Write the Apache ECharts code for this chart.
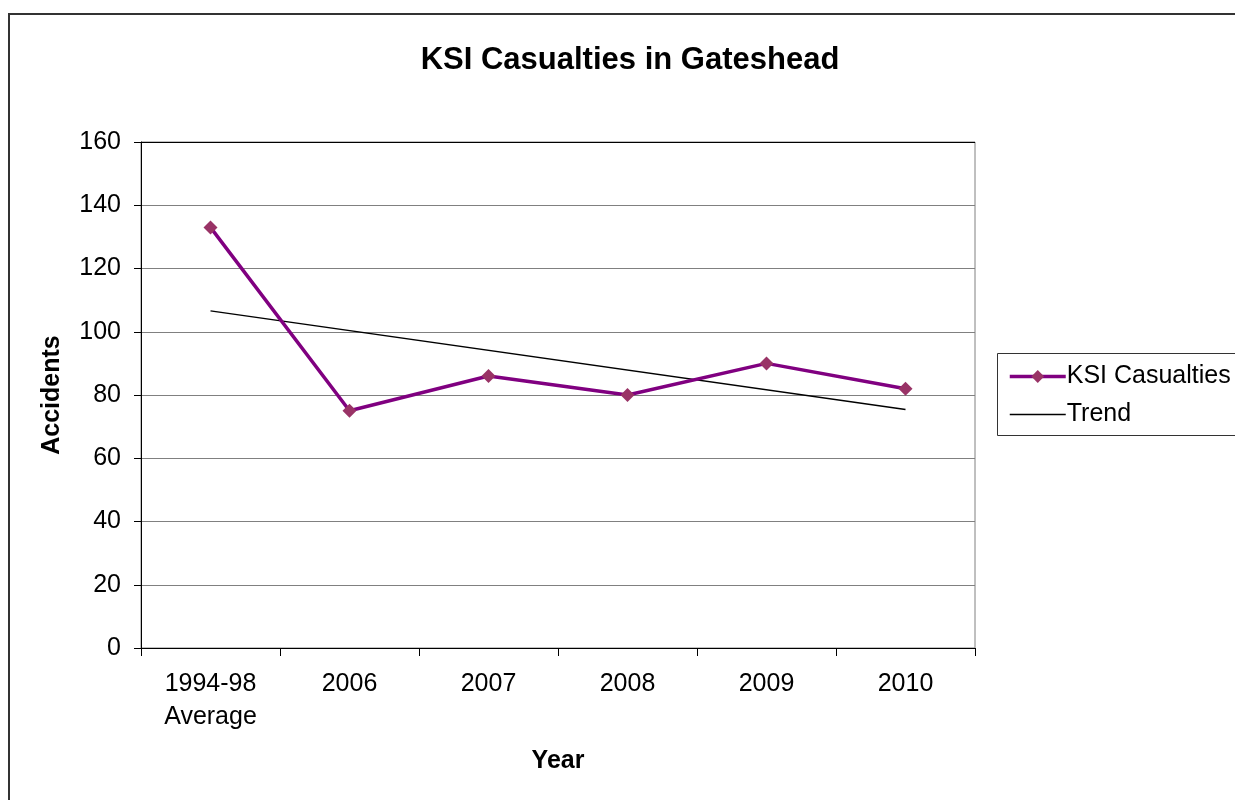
<!DOCTYPE html>
<html>
<head>
<meta charset="utf-8">
<title>KSI Casualties in Gateshead</title>
<script src="https://cdn.jsdelivr.net/npm/echarts@6/dist/echarts.min.js"></script>
<style>
  html, body { margin: 0; padding: 0; background: #fff; }
  #chart { width: 1235px; height: 800px; }
</style>
</head>
<body>
<div id="chart"></div>
<script>
// categories and values
const years = ['1994-98\nAverage', '2006', '2007', '2008', '2009', '2010']
const casualties = [133, 75, 86, 80, 90, 82]
// trend line: only the two end points, joined straight
const trend = [106.6, null, null, null, null, 75.4]
const yTicks = [0, 20, 40, 60, 80, 100, 120, 140, 160]

const font = 'Liberation Sans, Arial, sans-serif'

const chart = echarts.init(document.getElementById('chart'))
chart.setOption({
  animation: false,
  backgroundColor: '#fff',
  textStyle: { fontFamily: font, color: '#000' },
  title: {
    text: 'KSI Casualties in Gateshead',
    left: 625,
    textAlign: 'center',
    top: 40,
    textStyle: { fontFamily: font, fontSize: 31, fontWeight: 'bold', color: '#000' }
  },
  grid: {
    left: 141,
    top: 142,
    right: 260,
    bottom: 152,
    show: true,
    borderColor: '#808080',
    borderWidth: 1
  },
  legend: {
    orient: 'vertical',
    left: 1003,
    top: 359,
    itemWidth: 56,
    itemHeight: 16,
    itemGap: 13,
    data: [
      { name: 'KSI Casualties', lineStyle: { width: 3.5 } },
      { name: 'Trend', itemStyle: { opacity: 0 }, lineStyle: { width: 1.5 } }
    ],
    textStyle: { fontFamily: font, fontSize: 25, color: '#000', padding: [0, 0, 0, -4] }
  },
  graphic: [
    {
      type: 'rect',
      shape: { x: 9, y: 14, width: 1240, height: 800 },
      style: { fill: 'none', stroke: '#333', lineWidth: 2 },
      z: -1
    },
    {
      type: 'rect',
      shape: { x: 997.5, y: 353.5, width: 260, height: 82 },
      style: { fill: 'none', stroke: '#333', lineWidth: 1 }
    }
  ],
  xAxis: {
    type: 'category',
    data: years,
    boundaryGap: true,
    name: 'Year',
    nameLocation: 'middle',
    nameGap: 101,
    nameTextStyle: { fontFamily: font, fontSize: 25, fontWeight: 'bold', color: '#000' },
    axisLine: { lineStyle: { color: '#000', width: 1 } },
    axisTick: { show: true, length: 8, alignWithLabel: false, lineStyle: { color: '#000' } },
    axisLabel: { fontFamily: font, fontSize: 25, color: '#000', lineHeight: 33, margin: 20 },
    splitLine: { show: false }
  },
  yAxis: {
    type: 'value',
    min: yTicks[0],
    max: yTicks[yTicks.length - 1],
    interval: 20,
    name: 'Accidents',
    nameLocation: 'middle',
    nameGap: 76,
    nameTextStyle: { fontFamily: font, fontSize: 25, fontWeight: 'bold', color: '#000' },
    axisLine: { show: true, lineStyle: { color: '#000', width: 1 } },
    axisTick: { show: true, length: 7, lineStyle: { color: '#000' } },
    axisLabel: { fontFamily: font, fontSize: 25, color: '#000', margin: 20 },
    splitLine: {
      show: true,
      lineStyle: {
        color: ['#808080', '#808080', '#808080', '#808080', '#808080', '#808080', '#808080', '#808080', '#000'],
        width: 1
      }
    }
  },
  series: [
    {
      name: 'KSI Casualties',
      type: 'line',
      data: casualties,
      symbol: 'diamond',
      symbolSize: 14,
      lineStyle: { color: '#800080', width: 3.5 },
      itemStyle: { color: '#993366', borderWidth: 0 },
      z: 3
    },
    {
      name: 'Trend',
      type: 'line',
      data: trend,
      connectNulls: true,
      symbol: 'none',
      lineStyle: { color: '#000', width: 1.5 },
      itemStyle: { color: '#000' },
      z: 2
    }
  ]
})
</script>
</body>
</html>
